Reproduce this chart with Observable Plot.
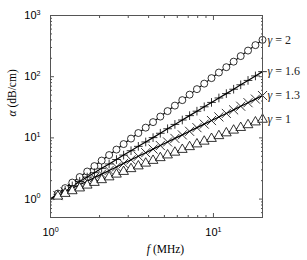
<!DOCTYPE html>
<html><head><meta charset="utf-8">
<script src="https://cdn.jsdelivr.net/npm/d3@7"></script>
<script src="https://cdn.jsdelivr.net/npm/@observablehq/plot@0.6"></script>
<style>html,body{margin:0;padding:0;background:#fff} svg{display:block}</style>
</head><body><div id="chart"></div>
<script>
// frequency (MHz) where markers are drawn
const freq = [1.11, 1.23, 1.36, 1.51, 1.68, 1.86, 2.06, 2.29, 2.54, 2.81, 3.12, 3.46, 3.84, 4.26, 4.72,
              5.23, 5.80, 6.44, 7.14, 7.92, 8.78, 9.73, 10.8, 12.0, 13.3, 14.7, 16.3, 18.1, 20.0];
// common starting point of the lines
const lineStartFreq = 1;
const lineStartAlpha = 1;
// attenuation (dB/cm) for each gamma
const alphaG2  = [1.23, 1.51, 1.86, 2.29, 2.82, 3.46, 4.26, 5.24, 6.44, 7.92, 9.74, 12.0, 14.7, 18.1, 22.3,
                  27.4, 33.7, 41.4, 50.9, 62.6, 77.0, 94.8, 117, 143, 176, 217, 267, 328, 400];
const alphaG16 = [1.18, 1.39, 1.64, 1.94, 2.29, 2.70, 3.18, 3.75, 4.43, 5.23, 6.17, 7.27, 8.58, 10.1, 11.9,
                  14.1, 16.6, 19.6, 23.1, 27.3, 32.2, 38.0, 44.9, 52.9, 62.4, 73.7, 86.9, 103, 121];
const alphaG13 = [1.14, 1.31, 1.50, 1.71, 1.96, 2.24, 2.56, 2.93, 3.35, 3.83, 4.38, 5.01, 5.73, 6.56, 7.50,
                  8.58, 9.81, 11.2, 12.8, 14.7, 16.8, 19.2, 22.0, 25.1, 28.7, 32.9, 37.6, 43.0, 49.2];
const alphaG1  = [1.11, 1.23, 1.36, 1.51, 1.68, 1.86, 2.06, 2.29, 2.54, 2.81, 3.12, 3.46, 3.84, 4.26, 4.72,
                  5.23, 5.80, 6.44, 7.14, 7.92, 8.78, 9.73, 10.8, 12.0, 13.3, 14.7, 16.3, 18.1, 20.0];
const gammaLabels = ["γ = 2", "γ = 1.6", "γ = 1.3", "γ = 1"];
const gammaSymbols = ["circle", "plus", "times", "triangle"];
const xMajorTicks = [1, 10];
const xMinorTicks = [2, 3, 4, 5, 6, 7, 8, 9, 20];
const yMajorTicks = [1, 10, 100, 1000];
const yMinorTicks = [0.6, 0.7, 0.8, 0.9, 2, 3, 4, 5, 6, 7, 8, 9, 20, 30, 40, 50, 60, 70, 80, 90,
                     200, 300, 400, 500, 600, 700, 800, 900];
const xLabel = "f (MHz)";
const yLabel = "α (dB/cm)";

const seriesValues = [alphaG2, alphaG16, alphaG13, alphaG1];
const points = [], linePts = [];
seriesValues.forEach((vals, s) => {
  linePts.push({f: lineStartFreq, a: lineStartAlpha, s});
  vals.forEach((a, i) => { points.push({f: freq[i], a, s}); linePts.push({f: freq[i], a, s}); });
});
const ends = seriesValues.map((vals, s) => ({f: freq[freq.length - 1], a: vals[vals.length - 1], label: gammaLabels[s]}));

const expFmt = d => `10^${Math.round(Math.log10(d))}`;
const blank = () => "";
const serif = "'Liberation Serif', 'DejaVu Serif', serif";
const axisGray = "#555";
const symbolRadius = {circle: 3.5, plus: 2.9, times: 4.2, triangle: 3.6};

const dotMarks = gammaSymbols.map((sym, s) => Plot.dot(points.filter(d => d.s === s), {
  x: "f", y: "a", symbol: sym, r: symbolRadius[sym], stroke: "#000", strokeWidth: 0.8,
  fill: (sym === "circle" || sym === "triangle") ? "white" : "none"
}));

const chart = Plot.plot({
  width: 307, height: 260,
  marginLeft: 50, marginRight: 45, marginTop: 15, marginBottom: 43,
  x: {type: "log", domain: [1, 20]},
  y: {type: "log", domain: [0.5, 1000]},
  style: {fontFamily: "'Liberation Sans', Arial, sans-serif", fontSize: "11px", color: "#000", background: "#fff"},
  marks: [
    Plot.line(linePts, {x: "f", y: "a", z: "s", stroke: "#000", strokeWidth: 1.2}),
    ...dotMarks,
    Plot.frame({stroke: axisGray, strokeWidth: 1}),
    // inward ticks on all four sides
    Plot.axisX({anchor: "bottom", ticks: xMajorTicks, tickSize: -4, tickFormat: blank, label: null, stroke: axisGray}),
    Plot.axisX({anchor: "bottom", ticks: xMinorTicks, tickSize: -2, tickFormat: blank, label: null, stroke: axisGray}),
    Plot.axisX({anchor: "top", ticks: xMajorTicks, tickSize: -4, tickFormat: blank, label: null, stroke: axisGray}),
    Plot.axisX({anchor: "top", ticks: xMinorTicks, tickSize: -2, tickFormat: blank, label: null, stroke: axisGray}),
    Plot.axisY({anchor: "left", ticks: yMajorTicks, tickSize: -4, tickFormat: blank, label: null, stroke: axisGray}),
    Plot.axisY({anchor: "left", ticks: yMinorTicks, tickSize: -2, tickFormat: blank, label: null, stroke: axisGray}),
    Plot.axisY({anchor: "right", ticks: yMajorTicks, tickSize: -4, tickFormat: blank, label: null, stroke: axisGray}),
    Plot.axisY({anchor: "right", ticks: yMinorTicks, tickSize: -2, tickFormat: blank, label: null, stroke: axisGray}),
    // tick labels
    Plot.axisX({anchor: "bottom", ticks: xMajorTicks, tickSize: 0, tickPadding: 11, tickFormat: expFmt, label: null}),
    Plot.axisY({anchor: "left", ticks: yMajorTicks, tickSize: 0, tickPadding: 10, tickFormat: expFmt, label: null}),
    // series labels
    Plot.text(ends, {x: "f", y: "a", text: "label", textAnchor: "start", dx: 5, fontFamily: serif, fontSize: 12, fill: "#222"}),
    // axis titles
    Plot.text([xLabel], {text: d => d, frameAnchor: "bottom", dy: 35, dx: 9, fontFamily: serif, fontSize: 11.5}),
    Plot.text([yLabel], {text: d => d, frameAnchor: "left", dx: -38, rotate: -90, fontFamily: serif, fontSize: 11.5})
  ]
});

// typographic touches: superscript exponents, italic math symbols
d3.select(chart).selectAll("text").each(function() {
  const t = this.textContent;
  const m = /^10\^(-?\d+)$/.exec(t);
  if (m) {
    const sel = d3.select(this);
    sel.text("10");
    sel.append("tspan").attr("dy", "-0.6em").attr("font-size", "0.65em").text(m[1]);
    return;
  }
  if (/^[αfγ] /.test(t)) {
    const sel = d3.select(this);
    sel.text("");
    sel.append("tspan").attr("font-style", "italic").text(t[0]);
    sel.append("tspan").text(t.slice(1));
  }
});

document.getElementById("chart").appendChild(chart);
</script>
</body></html>
